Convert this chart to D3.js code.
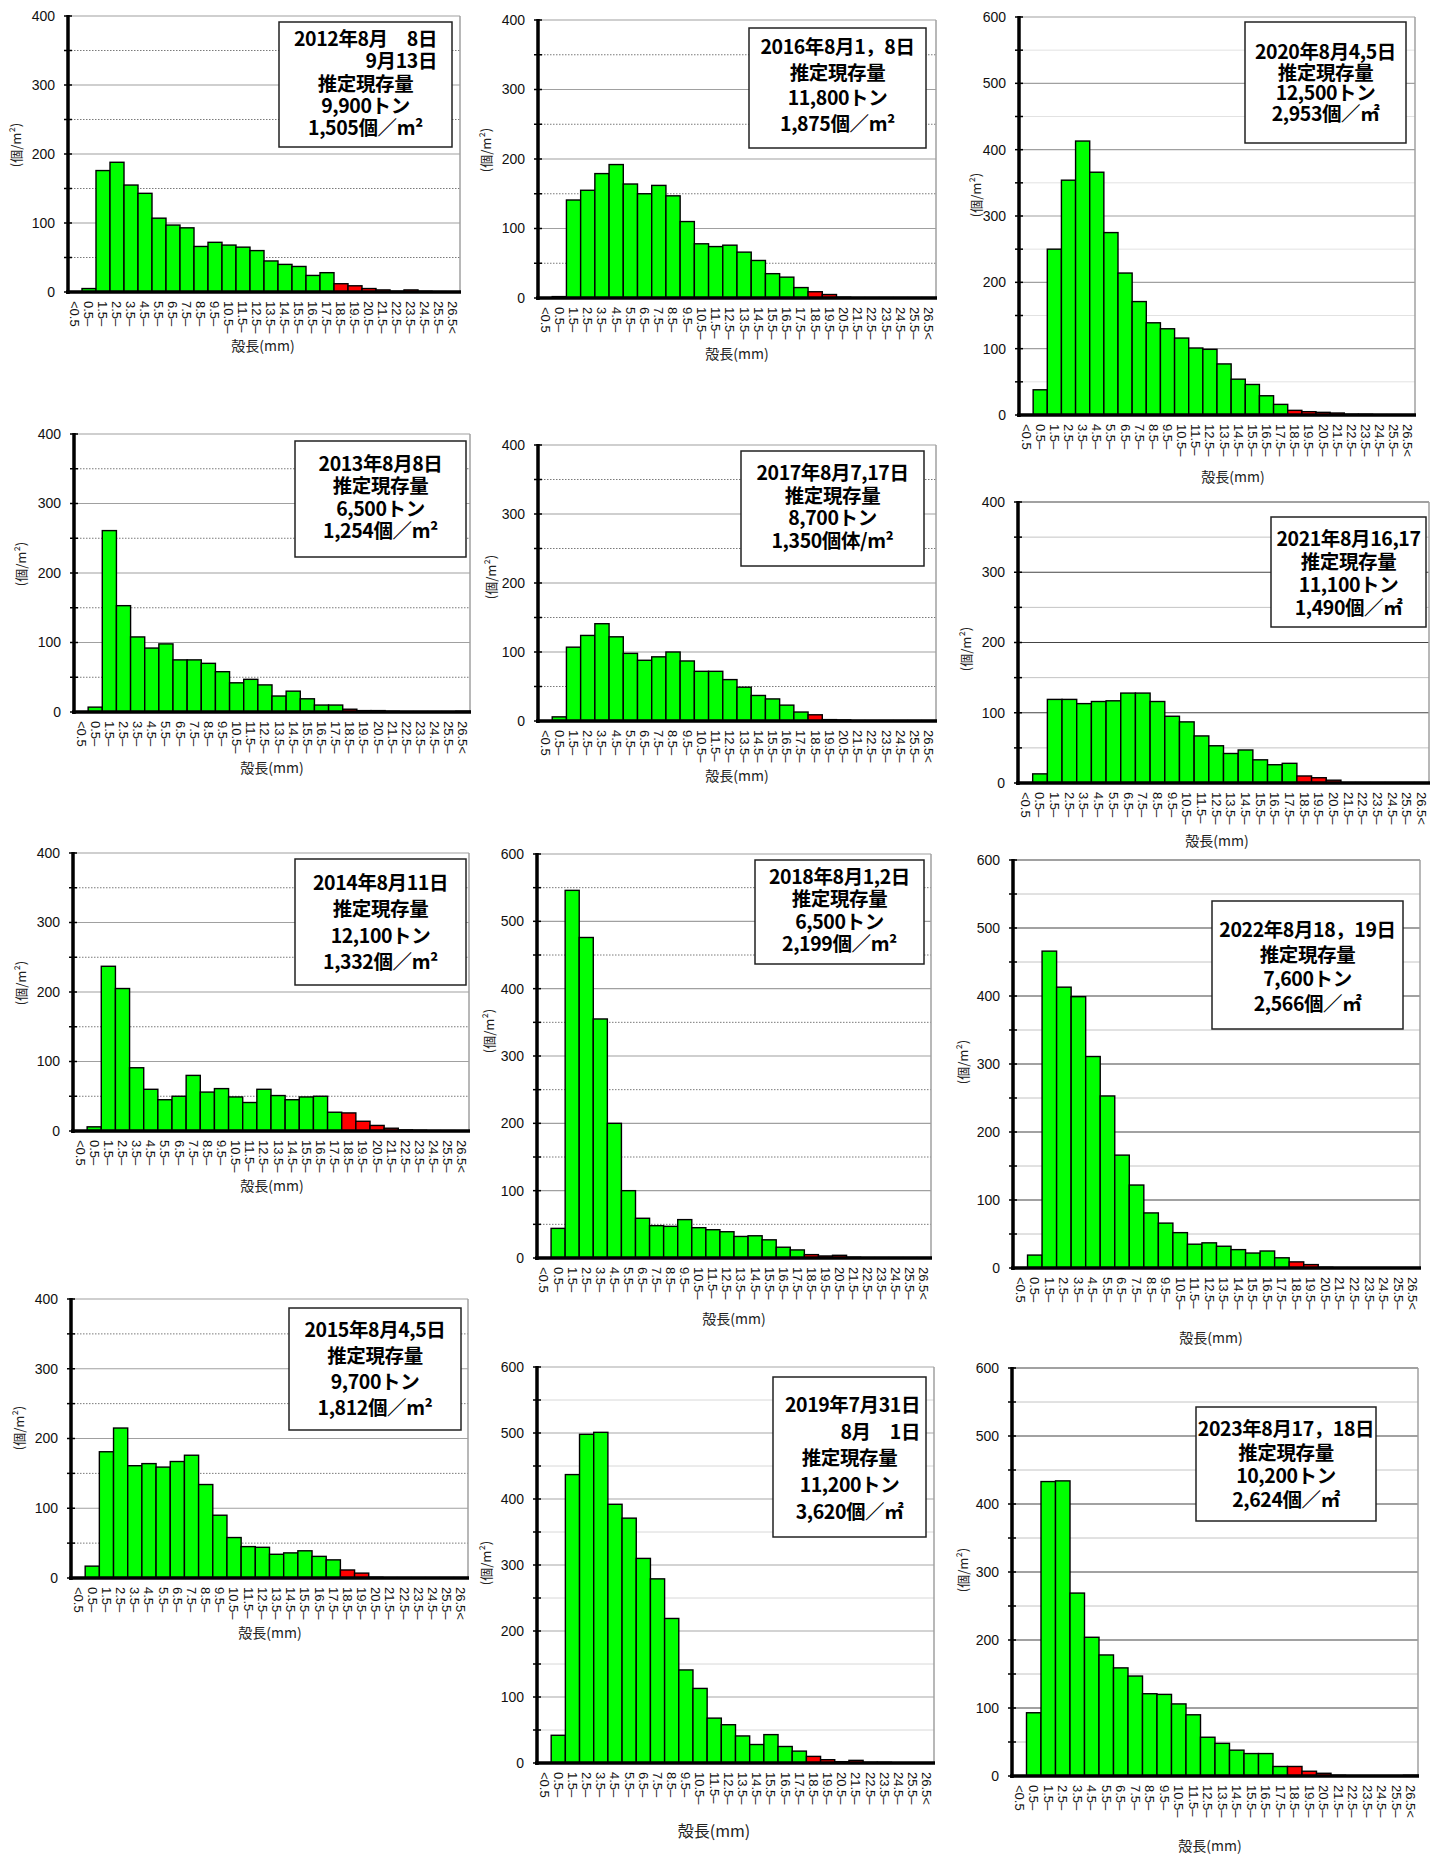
<!DOCTYPE html>
<html><head><meta charset="utf-8">
<script src="https://cdn.jsdelivr.net/npm/d3@7"></script>
<style>body{margin:0;background:#fff}svg{display:block}</style>
</head><body>
<svg id="chart" width="1447" height="1865"></svg>
<script>
// ---------- DATA ----------
const sizeClasses = ["<0.5","0.5–","1.5–","2.5–","3.5–","4.5–","5.5–","6.5–","7.5–","8.5–","9.5–","10.5–","11.5–","12.5–","13.5–","14.5–","15.5–","16.5–","17.5–","18.5–","19.5–","20.5–","21.5–","22.5–","23.5–","24.5–","25.5–","26.5<"];
const yTicks400 = [0,100,200,300,400];
const yTicks600 = [0,100,200,300,400,500,600];

const v2012 = [0,5,176,188,155,143,107,97,93,66,72,68,65,60,45,40,37,24,28,12,9,5,3,1,3,1,0.5,0];
const v2013 = [0,7,261,153,108,92,98,75,75,70,58,42,47,39,23,30,19,10,10,4,2,2,1,0.5,0.5,0.5,0.5,1];
const v2014 = [0,6,237,205,91,60,45,50,80,56,61,49,41,60,51,45,49,50,27,26,14,8,4,1.5,1,0.5,0.5,0];
const v2015 = [0,17,181,215,161,164,159,167,176,134,90,58,45,44,34,36,39,31,26,11.5,7,1,0.5,0.5,0.5,0.5,0.5,0.5];
const v2016 = [0,2,141,155,179,192,164,150,162,147,110,78,74,76,66,54,35,30,15,9,5,1,0.5,0.5,0.5,0.5,0.5,0.5];
const v2017 = [0,6,107,124,141,122,98,88,93,100,87,72,72,60,49,37,32,23,13,9,2,1.5,0.5,0.5,0.5,0.5,0.5,0.5];
const v2018 = [0,44,546,476,355,200,100,59,48,47,57,45,42,39,32,33,27,16,12,5,3,4,1,0.5,0.5,0.5,0.5,0.5];
const v2019 = [0,42,437,498,501,392,371,310,279,219,141,113,68,58,41,28,43,25,18,10,5,2,4,1,1,0,0,0];
const v2020 = [0,38,250,354,413,366,275,214,171,139,130,116,101,99,77,54,46,29,16,7,5,4,3,1,1,0.5,0.5,0];
const v2021 = [0,13,119,119,113,116,117,128,128,116,95,87,67,53,42,47,33,26,28,10,7.5,4,0.5,0.5,0.5,0.5,0.5,0.5];
const v2022 = [0,19,466,413,399,311,253,166,122,81,66,52,35,37,32,27,22,25,15,9,5,1,0.5,0.5,0.5,0.5,0.5,0.5];
const v2023 = [0,93,433,434,269,204,178,159,147,121,120,106,90,57,48,38,33,33,14,14,7,4,1,0.5,0.5,0.5,0.5,1];

const t2012 = ["2012年8月　8日","9月13日","推定現存量","9,900トン","1,505個／m²"];
const t2013 = ["2013年8月8日","推定現存量","6,500トン","1,254個／m²"];
const t2014 = ["2014年8月11日","推定現存量","12,100トン","1,332個／m²"];
const t2015 = ["2015年8月4,5日","推定現存量","9,700トン","1,812個／m²"];
const t2016 = ["2016年8月1，8日","推定現存量","11,800トン","1,875個／m²"];
const t2017 = ["2017年8月7,17日","推定現存量","8,700トン","1,350個体/m²"];
const t2018 = ["2018年8月1,2日","推定現存量","6,500トン","2,199個／m²"];
const t2019 = ["2019年7月31日","8月　1日","推定現存量","11,200トン","3,620個／㎡"];
const t2020 = ["2020年8月4,5日","推定現存量","12,500トン","2,953個／㎡"];
const t2021 = ["2021年8月16,17","推定現存量","11,100トン","1,490個／㎡"];
const t2022 = ["2022年8月18，19日","推定現存量","7,600トン","2,566個／㎡"];
const t2023 = ["2023年8月17，18日","推定現存量","10,200トン","2,624個／㎡"];

const xTitle = "殻長(mm)";
const yTitle = "(個/m²)";
const redFrom = "18.5–";

// ---------- LAYOUT / STYLE ----------
const gridStyles = {
  A:{major:"#a0a0a0", minor:"#7a7a7a", minorDash:"1.5,1.5"},
  B:{major:"#a8a8a8", minor:"#d8d8d8", minorDash:null},
  C:{major:"#a0a0a0", minor:"#e2e2e2", minorDash:null},
  D:{major:"#444444", minor:"#c4c4c4", minorDash:null}
};
const panels = [
 {values:v2012, lines:t2012, ticks:yTicks400, plot:[68,16,460,292], box:[279,22,452,147], line0:39, gap:22.3, rightN:2, rightX:437, title:[263,345], yt:[15,145], grid:"A"},
 {values:v2016, lines:t2016, ticks:yTicks400, plot:[538,20,936,298], box:[749,28,926,148], line0:47, gap:25.7, title:[737,353], yt:[485,150], grid:"A"},
 {values:v2020, lines:t2020, ticks:yTicks600, plot:[1019,17,1415,415], box:[1245,22,1406,143], line0:52, gap:20.5, title:[1233,476], yt:[975,195], grid:"C"},
 {values:v2013, lines:t2013, ticks:yTicks400, plot:[74,434,470,712], box:[295,441,466,557], line0:464, gap:22.3, title:[272,767], yt:[20,564], grid:"A"},
 {values:v2017, lines:t2017, ticks:yTicks400, plot:[538,445,936,721], box:[741,451,924,566], line0:473, gap:22.7, title:[737,775], yt:[490,577], grid:"A"},
 {values:v2021, lines:t2021, ticks:yTicks400, plot:[1018,502,1429,783], box:[1271,517,1426,627], line0:539, gap:23, title:[1217,840], yt:[965,649], grid:"D"},
 {values:v2014, lines:t2014, ticks:yTicks400, plot:[73,853,469,1131], box:[295,859,466,985], line0:883, gap:26.3, title:[272,1185], yt:[20,983], grid:"A"},
 {values:v2018, lines:t2018, ticks:yTicks600, plot:[537,854,931,1258], box:[755,860,924,964], line0:877, gap:22.3, title:[734,1318], yt:[488,1031], grid:"A"},
 {values:v2022, lines:t2022, ticks:yTicks600, plot:[1013,860,1420,1268], box:[1212,901,1403,1029], line0:930, gap:24.7, title:[1211,1337], yt:[962,1062], grid:"D"},
 {values:v2015, lines:t2015, ticks:yTicks400, plot:[71,1299,468,1578], box:[289,1308,461,1430], line0:1330, gap:26, title:[270,1632], yt:[18,1428], grid:"A"},
 {values:v2019, lines:t2019, ticks:yTicks600, plot:[537,1367,934,1763], box:[773,1377,926,1537], line0:1405, gap:26.7, rightN:2, rightX:920, title:[714,1830], yt:[485,1563], grid:"B", titleSize:16},
 {values:v2023, lines:t2023, ticks:yTicks600, plot:[1012,1368,1418,1776], box:[1196,1407,1376,1521], line0:1429, gap:23.7, title:[1210,1845], yt:[962,1570], grid:"D"}
];

const svg = d3.select("#chart");
const cjk = "'Noto Sans CJK JP','Noto Sans',sans-serif";
const latin = "'Liberation Sans',Arial,sans-serif";
const redIndex = sizeClasses.indexOf(redFrom);

panels.forEach(p => {
  const [x0,y0,x1,y1] = p.plot;
  const yMax = d3.max(p.ticks);
  const x = d3.scaleBand().domain(sizeClasses).range([x0,x1]).paddingInner(0).paddingOuter(0);
  const y = d3.scaleLinear().domain([0,yMax]).range([y1,y0]);
  const st = gridStyles[p.grid];
  const g = svg.append("g");

  const minor = p.ticks.slice(0,-1).map((t,i)=> (t + p.ticks[i+1])/2);
  g.selectAll(null).data(minor).join("line")
    .attr("x1",x0).attr("x2",x1).attr("y1",d=>y(d)).attr("y2",d=>y(d))
    .attr("stroke",st.minor).attr("stroke-width",1).attr("stroke-dasharray",st.minorDash);
  g.selectAll(null).data(p.ticks.slice(1)).join("line")
    .attr("x1",x0).attr("x2",x1).attr("y1",d=>y(d)).attr("y2",d=>y(d))
    .attr("stroke",st.major).attr("stroke-width",1.2);
  g.append("line").attr("x1",x1).attr("x2",x1).attr("y1",y(yMax)).attr("y2",y1)
    .attr("stroke","#a0a0a0").attr("stroke-width",1.5);

  g.selectAll(null).data(p.values.map((v,i)=>({v,c:sizeClasses[i],i}))).join("rect")
    .filter(d=>d.v>0)
    .attr("x",d=>x(d.c)).attr("width",x.bandwidth())
    .attr("y",d=>y(d.v)).attr("height",d=>y1-y(d.v))
    .attr("fill",d=>d.i>=redIndex?"#ff0000":"#00ff00")
    .attr("stroke","#000").attr("stroke-width",1.4);

  const allTicks = p.ticks.concat(minor);
  g.selectAll(null).data(allTicks).join("line")
    .attr("x1",x0-4).attr("x2",x0+4).attr("y1",d=>y(d)).attr("y2",d=>y(d))
    .attr("stroke","#000").attr("stroke-width",1.5);

  const ya = d3.axisLeft(y).tickValues(p.ticks).tickSize(0).tickPadding(13).tickFormat(d3.format("d"));
  const yg = g.append("g").attr("transform",`translate(${x0},0)`).call(ya);
  yg.select(".domain").remove();
  yg.selectAll("text").attr("font-family",latin).attr("font-size",14).attr("fill","#111");

  g.append("line").attr("x1",x0).attr("x2",x0).attr("y1",y(yMax)-1).attr("y2",y1+2)
    .attr("stroke","#000").attr("stroke-width",3.5);
  g.append("line").attr("x1",x0-2).attr("x2",x1+1).attr("y1",y1).attr("y2",y1)
    .attr("stroke","#000").attr("stroke-width",3.5);

  const xa = d3.axisBottom(x).tickSize(0);
  const xg = g.append("g").attr("transform",`translate(0,${y1})`).call(xa);
  xg.select(".domain").remove();
  xg.selectAll("text")
    .attr("font-family",latin).attr("font-size",13).attr("fill","#111")
    .attr("transform","rotate(90)").attr("x",9).attr("y",0).attr("dy","0.35em")
    .style("text-anchor","start");

  g.append("text").attr("x",p.title[0]).attr("y",p.title[1]).attr("text-anchor","middle")
    .attr("dominant-baseline","central").attr("font-family",cjk).attr("font-size",p.titleSize||14)
    .attr("fill","#222").text(xTitle);
  g.append("text").attr("transform",`translate(${p.yt[0]},${p.yt[1]}) rotate(-90)`)
    .attr("text-anchor","middle").attr("dominant-baseline","central")
    .attr("font-family",cjk).attr("font-size",13).attr("fill","#222").text(yTitle);

  // info box: one text element, one tspan per line
  const [bx0,by0,bx1,by1] = p.box;
  g.append("rect").attr("x",bx0).attr("y",by0).attr("width",bx1-bx0).attr("height",by1-by0)
    .attr("fill","#fff").attr("stroke","#222").attr("stroke-width",1.5);
  const cx = (bx0+bx1)/2;
  const bt = g.append("text")
    .attr("font-family",cjk).attr("font-weight","bold").attr("font-size",19.5)
    .attr("letter-spacing",-0.4).attr("fill","#000");
  bt.selectAll("tspan").data(p.lines).join("tspan")
    .attr("x",(d,i)=> (p.rightN && i<p.rightN) ? p.rightX : cx)
    .attr("y",(d,i)=> p.line0 + i*p.gap + 7)
    .attr("text-anchor",(d,i)=> (p.rightN && i<p.rightN) ? "end" : "middle")
    .text(d=>d);
});
</script>
</body></html>
